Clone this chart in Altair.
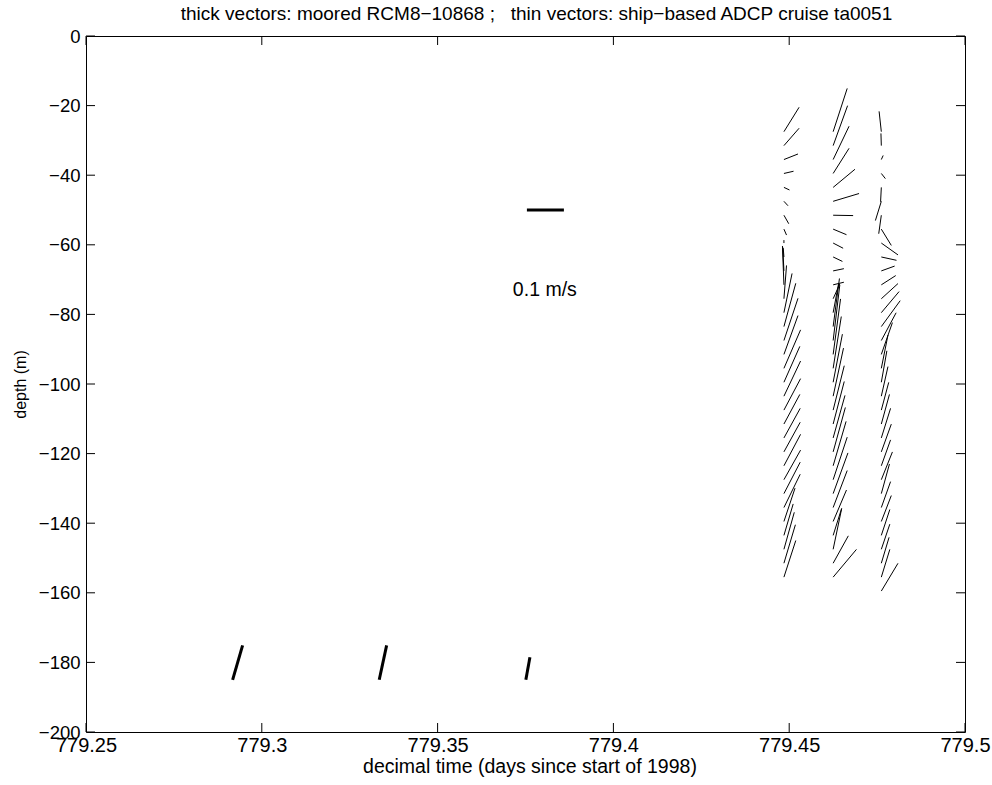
import altair as alt
import pandas as pd

# ---- ADCP profiles (thin vectors) ----
adcp_times = [779.4485, 779.4625, 779.4762]

# bin centre depths (m), shared by all three profiles
bin_depths = [-27.5, -31.5, -35.5, -39.5, -43.5, -47.5, -51.5, -55.5, -59.5, -63.5,
              -67.5, -71.5, -75.5, -79.5, -83.5, -87.5, -91.5, -95.5, -99.5, -103.5,
              -107.5, -111.5, -115.5, -119.5, -123.5, -127.5, -131.5, -135.5, -139.5,
              -143.5, -147.5, -151.5, -155.5, -159.5]

# east (u) and north (v) velocity components, m/s
u1 = [0.041, 0.041, 0.038, 0.026, 0.015, 0.011, 0.013, 0.007, 0.000, -0.002,
      -0.003, -0.004, 0.007, 0.022, 0.032, 0.038, 0.038, 0.045, 0.043, 0.045,
      0.045, 0.043, 0.044, 0.044, 0.045, 0.045, 0.044, 0.044, 0.030, 0.025,
      0.028, 0.031, 0.032]
v1 = [0.066, 0.047, 0.015, 0.006, -0.007, -0.012, -0.023, -0.016, 0.008, 0.025,
      0.060, 0.105, 0.090, 0.106, 0.117, 0.114, 0.105, 0.104, 0.097, 0.095,
      0.085, 0.080, 0.080, 0.080, 0.085, 0.080, 0.085, 0.090, 0.090, 0.085,
      0.100, 0.104, 0.099]

u2 = [0.038, 0.039, 0.043, 0.043, 0.059, 0.070, 0.054, 0.036, 0.027, 0.025,
      0.029, 0.029, 0.018, 0.015, 0.017, 0.018, 0.020, 0.022, 0.025, 0.028,
      0.030, 0.030, 0.032, 0.033, 0.035, 0.038, 0.040, 0.038, 0.036, 0.023,
      0.023, 0.041, 0.063]
v2 = [0.117, 0.108, 0.090, 0.068, 0.049, 0.021, -0.001, -0.015, -0.014, -0.012,
      0.006, 0.007, 0.040, 0.080, 0.130, 0.150, 0.150, 0.140, 0.130, 0.130,
      0.120, 0.115, 0.115, 0.120, 0.120, 0.115, 0.110, 0.100, 0.085, 0.073,
      0.110, 0.074, 0.075]

u3 = [-0.006, -0.001, 0.005, 0.011, -0.002, -0.016, -0.007, 0.027, 0.045, 0.041,
      0.036, 0.039, 0.045, 0.048, 0.051, 0.040, 0.030, 0.018, 0.015, 0.018,
      0.020, 0.022, 0.025, 0.027, 0.025, 0.030, 0.022, 0.025, 0.027, 0.023,
      0.023, 0.021, 0.023, 0.045]
v3 = [0.055, 0.033, 0.011, -0.014, -0.039, -0.052, -0.050, -0.044, -0.032, -0.009,
      0.013, 0.025, 0.041, 0.057, 0.070, 0.075, 0.086, 0.090, 0.085, 0.080,
      0.075, 0.080, 0.080, 0.075, 0.070, 0.075, 0.080, 0.070, 0.070, 0.070,
      0.068, 0.070, 0.075, 0.075]

# ---- moored current meter RCM8-10868 (thick vectors) ----
moor_times = [779.2917, 779.3334, 779.3751]
moor_depths = [-185, -185, -185]
moor_u = [0.027, 0.020, 0.011]
moor_v = [0.093, 0.093, 0.061]

# ---- reference vector ----
ref_time = [779.3754]
ref_depth = [-50]
ref_u = [0.1]
ref_v = [0.0]

x_ticks = [779.25, 779.3, 779.35, 779.4, 779.45, 779.5]
y_ticks = [-200, -180, -160, -140, -120, -100, -80, -60, -40, -20, 0]

X_DOMAIN = [779.25, 779.5]
Y_DOMAIN = [-200, 0]
W, H = 879, 696
VEC_PX = 37.0  # drawn length (px) of a 0.1 m/s vector

# vector scale factors: velocity (m/s) -> data units on each axis
KX = VEC_PX / W * (X_DOMAIN[1] - X_DOMAIN[0]) / 0.1
KY = VEC_PX / H * (Y_DOMAIN[1] - Y_DOMAIN[0]) / 0.1

FONT = "Liberation Sans"

rows = []
for t, us, vs in zip(adcp_times, [u1, u2, u3], [v1, v2, v3]):
    for z, u, v in zip(bin_depths, us, vs):
        rows.append({"t": t, "z": z, "u": u, "v": v})
adcp = pd.DataFrame(rows)
moor = pd.DataFrame({"t": moor_times, "z": moor_depths, "u": moor_u, "v": moor_v})
ref = pd.DataFrame({"t": ref_time, "z": ref_depth, "u": ref_u, "v": ref_v})

xs = alt.Scale(domain=X_DOMAIN, nice=False, zero=False)
ys = alt.Scale(domain=Y_DOMAIN, nice=False, zero=False)

x_axis = alt.Axis(values=x_ticks, format="~g", ticks=False, grid=False, domain=False,
                  labelFont=FONT, labelFontSize=20, labelColor="black", labelPadding=3,
                  labelFlush=False, labelBaseline="top",
                  title="decimal time (days since start of 1998)", titleFont=FONT,
                  titleFontSize=19.5, titleFontWeight="normal", titleColor="black",
                  titleX=W / 2 + 4, titleY=34, titleBaseline="middle", titleAlign="center")
y_axis = alt.Axis(values=y_ticks, format="d", ticks=False, grid=False, domain=False,
                  labelFont=FONT, labelFontSize=18.5, labelColor="black", labelPadding=6,
                  labelFlush=False,
                  title="depth (m)", titleFont=FONT, titleFontSize=16,
                  titleFontWeight="normal", titleColor="black",
                  titleX=-66, titleY=H / 2, titleAngle=270, titleBaseline="middle",
                  titleAlign="center")


def vectors(df, width):
    return alt.Chart(df).transform_calculate(
        xe=f"datum.t + datum.u * {KX}",
        ye=f"datum.z + datum.v * {KY}",
    ).mark_rule(color="black", strokeWidth=width).encode(
        x=alt.X("t:Q", scale=xs, axis=x_axis),
        y=alt.Y("z:Q", scale=ys, axis=y_axis),
        x2="xe:Q",
        y2="ye:Q",
    )


thin = vectors(adcp, 1)
thick = vectors(moor, 3)
ref_vec = vectors(ref, 3)

label = alt.Chart(pd.DataFrame({"t": [779.3805], "z": [-73.0], "s": ["0.1 m/s"]})).mark_text(
    font=FONT, fontSize=19.5, color="black", align="center", baseline="middle"
).encode(x=alt.X("t:Q", scale=xs), y=alt.Y("z:Q", scale=ys), text="s:N")

# inward tick marks on all four sides of the box
TL = 9
xt = pd.DataFrame({"v": x_ticks})
yt = pd.DataFrame({"v": y_ticks})
tick_style = dict(color="black", strokeWidth=1)
bottom = alt.Chart(xt).mark_rule(**tick_style).encode(
    x=alt.X("v:Q", scale=xs), y=alt.value(H), y2=alt.value(H - TL))
top = alt.Chart(xt).mark_rule(**tick_style).encode(
    x=alt.X("v:Q", scale=xs), y=alt.value(0), y2=alt.value(TL))
left = alt.Chart(yt).mark_rule(**tick_style).encode(
    y=alt.Y("v:Q", scale=ys), x=alt.value(0), x2=alt.value(TL))
right = alt.Chart(yt).mark_rule(**tick_style).encode(
    y=alt.Y("v:Q", scale=ys), x=alt.value(W), x2=alt.value(W - TL))

title_text = ("thick vectors: moored RCM8\u221210868 ;\u00a0\u00a0\u00a0thin vectors: "
              "ship\u2212based ADCP cruise ta0051")

chart = alt.layer(thin, thick, ref_vec, label, bottom, top, left, right).properties(
    width=W,
    height=H,
    padding={"left": 86, "top": 36, "right": 27, "bottom": 53},
    autosize=alt.AutoSizeParams(type="none"),
    background="white",
    title=alt.TitleParams(
        text=title_text, font=FONT, fontSize=19, fontWeight="normal", color="black",
        offset=3, dx=11, anchor="middle"),
).configure_view(stroke="black", strokeWidth=1)

chart.save("out.html", embed_options={"renderer": "svg", "actions": False})
